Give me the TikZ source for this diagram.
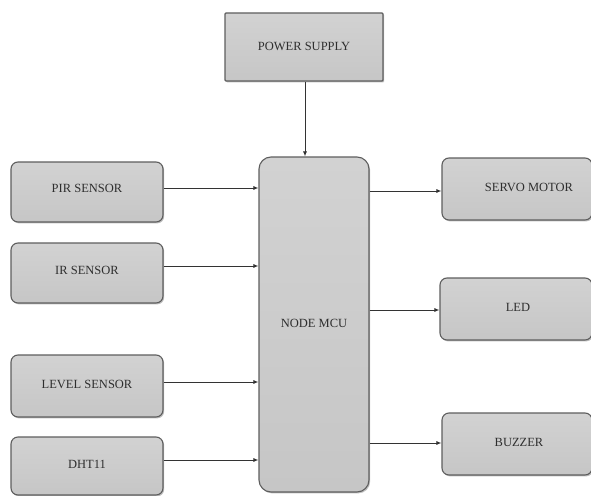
\documentclass[tikz,border=0pt]{standalone}
\usepackage{fontspec}
\setmainfont{Liberation Serif}
\usetikzlibrary{arrows.meta,shadows}
\definecolor{boxfill}{HTML}{C6C6C6}
\definecolor{boxtop}{HTML}{D2D2D2}
\definecolor{boxedge}{HTML}{5E5E5E}
\definecolor{txt}{HTML}{2E2E2E}
\definecolor{wire}{HTML}{333333}
\tikzset{
  blk/.style={draw=boxedge, line width=1.1pt, top color=boxtop, bottom color=boxfill,
    rounded corners=7pt, inner sep=0pt, text=txt,
    font=\fontsize{12.5}{14}\selectfont,
    drop shadow={shadow xshift=1.2pt, shadow yshift=-1.4pt, opacity=0.5}},
  arr/.style={draw=wire, line width=0.9pt, -{Latex[length=5pt,width=4pt]}}
}
\newcommand{\up}[2]{\raisebox{#1}{#2}}
\begin{document}
\begin{tikzpicture}[x=1pt,y=-1pt]
\useasboundingbox[fill=white] (0,0) rectangle (591,495);
% power supply
\node[blk, rounded corners=1pt, minimum width=158pt, minimum height=68pt] (ps) at (304,47) {\up{2pt}{POWER SUPPLY}};
% MCU
\node[blk, rounded corners=12pt, minimum width=110pt, minimum height=335pt] (mcu) at (314,324.5) {\up{2pt}{NODE MCU}};
% inputs
\node[blk, minimum width=152pt, minimum height=60pt] (pir) at (87,192) {\up{7pt}{PIR SENSOR}};
\node[blk, minimum width=152pt, minimum height=60pt] (ir) at (87,273) {\up{5pt}{IR SENSOR}};
\node[blk, minimum width=152pt, minimum height=62pt] (lvl) at (87,386) {\up{4pt}{LEVEL SENSOR}};
\node[blk, minimum width=152pt, minimum height=58pt] (dht) at (87,466) {\up{3pt}{DHT11}};
% outputs
\node[blk, minimum width=150pt, minimum height=62pt] (servo) at (517,189) {\hspace*{24pt}\up{4pt}{SERVO MOTOR}};
\node[blk, minimum width=152pt, minimum height=62pt] (led) at (516,309) {\hspace*{4pt}\up{4pt}{LED}};
\node[blk, minimum width=150pt, minimum height=62pt] (buz) at (517,444) {\hspace*{4pt}\up{4pt}{BUZZER}};
% connectors
\draw[arr] ([xshift=1pt]ps.south) -- ([xshift=1pt]ps.south |- mcu.north);
\draw[arr] ([yshift=4pt]pir.east) -- ([yshift=4pt]pir.east -| mcu.west);
\draw[arr] ([yshift=7pt]ir.east) -- ([yshift=7pt]ir.east -| mcu.west);
\draw[arr] ([yshift=4pt]lvl.east) -- ([yshift=4pt]lvl.east -| mcu.west);
\draw[arr] ([yshift=6pt]dht.east) -- ([yshift=6pt]dht.east -| mcu.west);
\draw[arr] ([yshift=-2pt]servo.west -| mcu.east) -- ([yshift=-2pt]servo.west);
\draw[arr] ([yshift=-1pt]led.west -| mcu.east) -- ([yshift=-1pt]led.west);
\draw[arr] ([yshift=1pt]buz.west -| mcu.east) -- ([yshift=1pt]buz.west);
\end{tikzpicture}
\end{document}
